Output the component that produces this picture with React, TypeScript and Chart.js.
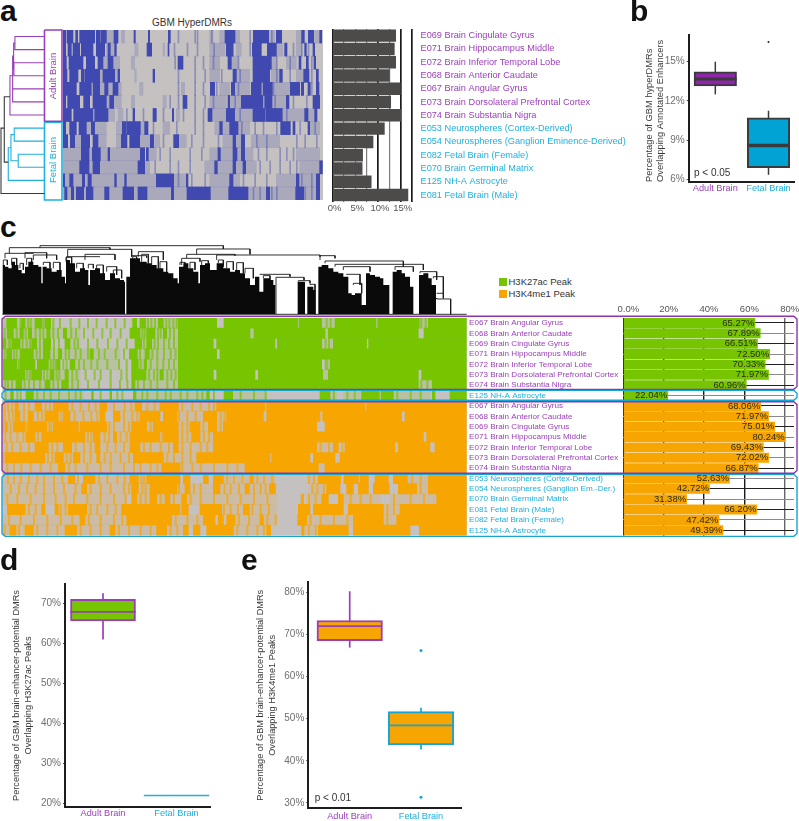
import React, { useEffect, useRef } from "react";
import { Chart, registerables } from "chart.js";
Chart.register(...registerables);

const FONT = '"Liberation Sans", Arial, sans-serif';
Chart.defaults.font.family = FONT;
Chart.defaults.plugins.legend.display = false;
Chart.defaults.plugins.tooltip.enabled = false;

const ADULT = "#9a3fb8";
const FETAL = "#1fb0de";
const ADULT_DARK = "#8e35ad";
const FETAL_DARK = "#16a5d6";
const GREEN = "#76c500";
const ORANGE = "#f7a500";
const BLUE = "#3f49b0";
const GRAY = "#c5c1c0";

/* Panel a */
const aRowNames = ["E069 Brain Cingulate Gyrus","E071 Brain Hippocampus Middle","E072 Brain Inferior Temporal Lobe","E068 Brain Anterior Caudate","E067 Brain Angular Gyrus","E073 Brain Dorsolateral Prefrontal Cortex","E074 Brain Substantia Nigra","E053 Neurospheres (Cortex-Derived)","E054 Neurospheres (Ganglion Eminence-Derived)","E082 Fetal Brain (Female)","E070 Brain Germinal Matrix","E125 NH-A Astrocyte","E081 Fetal Brain (Male)"];
const aPercent = [13.9,13.6,13.9,12.5,14.9,12.8,15.0,11.4,8.9,6.6,6.5,8.5,16.6];
const aSolid = [
[[0,8],[12,30],[38,44],[50,95],[100,112],[115,130],[153,165],[213,217],[256,260],[316,322],[486,516],[571,617],[640,656],[716,724],[736,752],[770,776]],
[[0,8],[15,25],[30,50],[55,90],[100,125],[135,142],[155,160],[252,266],[315,318],[490,510],[568,595],[613,640],[665,672],[725,730],[750,755]],
[[0,10],[18,60],[70,95],[105,120],[135,150],[345,360],[495,505],[570,625],[708,714],[730,736],[753,758]],
[[0,12],[20,45],[55,62],[65,110],[120,155],[165,170],[270,275],[510,520],[570,620],[650,658],[722,738],[760,766]],
[[0,40],[50,85],[90,110],[125,135],[150,165],[442,455],[505,515],[565,595],[600,628],[682,710],[715,722],[735,742],[760,768]],
[[0,8],[14,50],[62,80],[90,130],[140,152],[360,372],[495,500],[535,600],[605,627],[670,678],[750,770]],
[[0,25],[32,90],[95,135],[210,215],[270,280],[328,332],[435,447],[490,515],[570,607],[610,658],[725,735],[755,762]],
[[0,8],[20,40],[48,70],[85,95],[178,190],[192,232],[245,255],[470,478],[500,525],[653,682],[690,696],[735,740]],
[[0,14],[22,35],[55,80],[90,105],[175,192],[200,230],[262,272],[332,347],[510,518],[535,545]],
[[55,78],[88,112],[135,140],[232,245],[250,256],[465,472],[510,522],[535,545]],
[[50,78],[90,110],[225,245],[455,463],[510,518],[540,548],[770,778]],
[[0,5],[20,30],[58,65],[75,85],[155,160],[185,190],[280,332],[370,375],[500,510],[700,708],[760,770]],
[[5,12],[25,32],[40,62],[70,90],[125,138],[180,212],[225,252],[325,332],[372,442],[497,555],[610,620],[698,722],[760,770]],
];
const aFaint = [
[[120,153],[175,185],[440,450],[470,486],[516,530],[620,635],[700,716],[755,768]],
[[130,155],[215,225],[300,305],[440,486],[520,535],[640,660],[700,716]],
[[120,135],[150,170],[205,215],[440,470],[505,525],[625,640],[670,700]],
[[110,120],[155,165],[215,220],[440,470],[520,560],[625,650],[700,720]],
[[110,125],[135,150],[165,175],[230,240],[355,365],[470,500],[515,560],[625,680]],
[[130,140],[152,175],[205,215],[300,310],[440,490],[500,535],[627,670]],
[[135,155],[165,180],[340,350],[447,490],[515,570],[660,725],[735,755]],
[[70,85],[95,130],[160,178],[232,245],[300,320],[455,470],[478,500],[525,560],[740,770]],
[[35,55],[105,130],[160,175],[232,262],[275,290],[345,370],[480,510],[518,535],[565,650]],
[[0,55],[78,88],[112,135],[140,230],[256,280],[440,465],[472,510],[522,535],[545,570],[700,770]],
[[0,50],[78,90],[110,225],[245,260],[425,455],[463,510],[518,540],[550,580],[710,780]],
[[5,20],[30,58],[65,75],[85,155],[160,185],[190,280],[332,370],[440,500],[510,530],[640,700],[708,760]],
[[0,5],[12,25],[32,40],[62,70],[90,125],[138,180],[212,225],[252,325],[332,372],[442,497],[555,610],[620,698],[722,760]],
];
const aStreaks = [
[345,395,402,445,505,560,625],
[333,372,402,452,508,560,630,690,715,735],
[335,395,420,450,525,640,680,745],
[345,395,425,475,530,640,680,745],
[345,395,420,460,525,630,715,745],
[320,345,395,425,450,515,635,690,730],
[190,240,300,360,395,420,530,650,670],
[270,340,395,420,535,575,600,640,710,755],
[300,385,420,465,580,610,700,725,760],
[290,320,380,415,585,610,650,670,690],
[275,320,345,380,590,620,650,680,700],
[345,385,425,540,575,610,715,745],
[570,590,625,640,725,745],
];
const aTreeAdult = [
[43.7,0,14,0,14,1,43.7,1],[14,0.5,12.7,0.5,12.7,2.5],[43.7,2,13,2,13,3,43.7,3],[12.7,1.5,11.7,1.5,11.7,4.5],
[43.7,4,11.7,4,11.7,5,43.7,5],[11.7,3,9,3,9,6,43.7,6],
];
const aTreeFetal = [
[43.7,7,13.3,7,13.3,8,43.7,8],[43.7,9,17.3,9,17.3,10,43.7,10],[13.3,7.5,10,7.5,10,9.5,17.3,9.5],[10,8.5,7.3,8.5,7.3,11,43.7,11],
];
const aTreeRoot = [[9,4.6,3.3,4.6,3.3,9.6,7.3,9.6],[3.3,7,0,7,0,12,43.7,12]];
const aGroupBoxes = [[43.7,-0.5,61.3,6.48],[43.7,6.56,61.3,12.5]];

/* Panel b, d, e: low, q1, median, q3, high */
const groupNames = ["Adult Brain","Fetal Brain"];
const bAdult = [12.5,13.14,13.68,14.23,15];
const bFetal = [6.35,6.9,8.6,10.7,11.25];
const bOutliers = [16.5];
const dAdult = [60.96,65.6,67.89,71,72.5];
const dFetal = [22.04];
const eAdult = [66.87,68.5,71.97,73.3,80.24];
const eFetal = [42.72,43.8,48.4,51.7,52.63];
const eOutliers = [66.2,31.38];

/* Panel c */
const cRowNames = ["E067 Brain Angular Gyrus","E068 Brain Anterior Caudate","E069 Brain Cingulate Gyrus","E071 Brain Hippocampus Middle","E072 Brain Inferior Temporal Lobe","E073 Brain Dorsolateral Prefrontal Cortex","E074 Brain Substantia Nigra","E125 NH-A Astrocyte","E067 Brain Angular Gyrus","E068 Brain Anterior Caudate","E069 Brain Cingulate Gyrus","E071 Brain Hippocampus Middle","E072 Brain Inferior Temporal Lobe","E073 Brain Dorsolateral Prefrontal Cortex","E074 Brain Substantia Nigra","E053 Neurospheres (Cortex-Derived)","E054 Neurospheres (Ganglion Em.-Der.)","E070 Brain Germinal Matrix","E081 Fetal Brain (Male)","E082 Fetal Brain (Female)","E125 NH-A Astrocyte"];
const cRowIsAdult = [1,1,1,1,1,1,1,0,1,1,1,1,1,1,1,0,0,0,0,0,0];
const cPercent = [65.27,67.89,66.51,72.50,70.33,71.97,60.96,22.04,68.06,71.97,75.01,80.24,69.43,72.02,66.87,52.63,42.72,31.38,66.20,47.42,49.39];
const cAxisTicks = [0,20,40,60,80];
const cSolid = [
[[20,50],[65,75],[105,125],[135,152],[398,410],[420,437],[475,490],[535,650],[672,893],[897,965],[1005,1128],[1133,1258],[1285,1400]],
[[22,40],[60,70],[85,95],[140,150],[190,200],[390,420],[440,465],[490,500],[535,750],[762,975],[985,1255],[1272,1400]],
[[7,18],[35,60],[95,110],[130,152],[195,210],[405,425],[440,455],[535,640],[650,825],[832,965],[1000,1100],[1106,1400]],
[[20,35],[60,100],[130,150],[175,185],[270,280],[388,412],[435,448],[535,650],[660,1400]],
[[10,50],[60,105],[112,145],[170,180],[210,225],[395,415],[432,440],[535,965],[990,1400]],
[[10,75],[95,125],[150,162],[195,205],[395,438],[480,490],[535,640],[650,765],[775,968],[985,1255],[1265,1400]],
[[48,65],[135,150],[185,205],[395,405],[535,1255],[1297,1400]],
[[32,40],[78,100],[275,280],[330,335],[400,408],[620,628],[672,698],[960,990],[1085,1138],[1143,1180],[1297,1305],[1350,1400]],
[[45,55],[105,125],[160,205],[300,320],[405,425],[480,535],[650,795],[800,1095],[1100,1400]],
[[45,60],[85,100],[135,175],[190,210],[300,315],[340,360],[420,480],[490,530],[610,650],[680,790],[800,960],[968,1205],[1215,1400]],
[[15,22],[40,75],[85,140],[160,235],[240,320],[395,440],[460,535],[570,600],[625,650],[670,950],[975,1400]],
[[78,105],[125,255],[280,300],[340,350],[390,480],[490,535],[575,600],[640,1270],[1280,1400]],
[[105,145],[190,215],[285,300],[390,420],[520,535],[640,950],[1000,1015],[1035,1185],[1195,1290],[1305,1400]],
[[15,135],[165,190],[220,240],[290,300],[400,490],[590,810],[815,930],[940,1005],[1020,1400]],
[[175,195],[485,540],[735,955],[975,1400]],
[[205,225],[250,285],[390,415],[440,540],[550,570],[610,625],[640,670],[750,760],[955,1022],[1032,1075],[1080,1105],[1125,1165],[1180,1222],[1285,1400]],
[[245,260],[395,415],[450,530],[555,570],[640,660],[735,748],[808,826],[980,1020],[1040,1060],[1075,1105],[1120,1168],[1195,1250],[1285,1400]],
[[395,410],[450,470],[495,510],[545,560],[905,910],[965,985],[1015,1030],[1310,1400]],
[[22,75],[125,135],[165,175],[205,260],[365,540],[545,565],[600,665],[730,748],[895,930],[940,1030],[1045,1150],[1200,1400]],
[[240,255],[380,515],[610,645],[655,670],[680,705],[780,790],[893,920],[1060,1150],[1190,1400]],
[[30,48],[75,100],[195,230],[330,345],[470,500],[550,565],[580,600],[620,700],[800,812],[905,912],[955,1045],[1060,1230],[1258,1400]],
];
const cFaint = [
[[7,20],[50,105],[125,135],[395,398],[437,475],[490,535],[965,1005],[1258,1285]],
[[7,140],[150,240],[420,535],[750,762],[975,985]],
[[60,95],[110,130],[210,240],[425,535],[965,1000]],
[[7,175],[185,360],[412,535]],
[[50,60],[145,170],[225,360],[415,535]],
[[75,95],[125,150],[162,240],[438,535],[968,985]],
[[7,48],[65,135],[150,185],[205,240],[405,535],[1255,1297]],
[[100,250],[408,620],[700,800],[990,1010],[1030,1085],[1180,1290]],
[[7,105],[125,160],[205,300],[320,405],[425,480],[535,650]],
[[7,45],[60,85],[100,135],[175,190],[210,300],[360,420],[530,610],[650,680]],
[[22,40],[75,85],[140,160],[320,395],[440,460],[535,570],[600,625],[650,670]],
[[7,78],[105,125],[255,280],[300,340],[350,390],[535,575],[600,640]],
[[7,105],[145,190],[215,285],[300,390],[420,520],[535,640],[950,1000]],
[[135,165],[190,220],[240,290],[300,400],[490,590]],
[[7,175],[195,485],[540,735],[955,975]],
[[7,205],[285,390],[415,440],[670,825],[920,955],[1222,1285]],
[[7,245],[260,395],[415,450],[530,555],[570,640],[660,735],[748,808],[930,980],[1250,1285]],
[[7,380],[410,450],[470,495],[510,545],[560,830],[900,905],[920,965],[1030,1140],[1170,1310]],
[[75,125],[175,205],[260,365],[665,730],[748,830],[1150,1200]],
[[7,240],[255,380],[515,610],[705,780],[790,830],[920,1060],[1150,1190]],
[[7,30],[48,75],[100,195],[230,330],[345,470],[500,550],[700,800],[912,955]],
];
const cStreaks = [
[60,82,90,128,158,178,210,236,262,288,318,344,372,442,452,463,497,506,518,528,978,990,1262,1275],
[12,48,75,105,118,128,158,172,212,226,250,278,305,330,360,425,432,472,480,508,520],
[24,28,66,78,88,118,160,175,222,232,262,290,322,350,378,430,462,472,490,505,520,975,985],
[12,40,48,108,118,160,195,205,225,240,262,295,312,345,370,418,455,470,490,510,525],
[54,150,158,165,188,198,235,250,272,290,320,355,378,420,450,470,488,505,520,975,980],
[80,88,130,140,168,176,215,228,255,282,300,330,362,378,445,460,470,500,512,525],
[14,22,34,72,85,100,118,158,172,215,232,262,295,330,358,380,412,430,450,470,500,520,1262,1280],
[15,50,60,110,130,150,175,205,225,240,300,350,365,425,440,470,495,510,540,560,590,605,640,720,760,795,1000,1040,1062,1190,1230,1260],
[12,22,34,70,85,135,148,215,240,265,285,340,372,392,440,462,545,575,600,625,640],
[12,25,36,70,112,124,182,222,248,272,290,370,395,410,535,560,585,660,672],
[8,30,78,146,152,326,340,370,385,450,545,560,608,660],
[14,30,50,68,112,262,272,312,325,360,378,485,545,560,610,625],
[18,35,60,85,155,170,225,250,270,320,345,370,430,450,480,505,545,570,600,620,960,985,1025],
[8,142,155,198,210,250,270,312,330,360,385,500,520,545,570],
[20,40,62,90,120,150,205,225,260,300,330,370,400,420,450,470,545,575,600,640,680,710],
[22,40,60,85,110,130,160,185,232,295,320,350,372,422,430,680,700,725,770,790,815,925,940,1235,1260],
[30,55,80,105,130,160,190,225,270,300,330,370,385,425,435,535,580,600,672,690,715,760,780,795,935,950,970,1260],
[20,50,90,130,165,195,220,260,300,340,375,420,435,480,520,570,600,640,680,720,760,800,925,945,1050,1080,1110,1180,1230,1270],
[85,105,180,195,270,290,320,345,670,690,712,755,780,805,1160,1180],
[25,60,100,140,180,215,265,300,340,365,525,560,590,715,745,800,825,930,960,1000,1040,1160],
[12,55,110,140,170,240,270,300,355,385,420,450,510,530,710,740,770,790,925,945],
];
const cGroupFrames = [
{ from: -0.65, to: 6.4, adult: true },
{ from: 6.5, to: 7.46, adult: false },
{ from: 7.6, to: 14.5, adult: true },
{ from: 14.6, to: 20.58, adult: false },
];
const dendroProfileX = [7,15,25,35,45,55,65,75,85,100,115,124,128,140,155,170,185,195,198,210,225,240,255,265,270,285,300,315,330,345,360,372,375,379,390,405,420,440,455,470,490,505,520,533,537,550,565,580,595,600,615,630,650,670,690,705,720,735,750,765,778,790,800,810,820,826,893,905,915,922,940,946,955,965,985,1000,1015,1030,1045,1055,1065,1075,1085,1098,1110,1125,1140,1150,1160,1168,1178,1190,1205,1215,1230,1240,1257,1270,1285,1295,1308,1400];
const dendroProfileDepth = [150,155,160,140,150,165,175,155,140,150,155,205,155,160,170,165,185,205,135,145,170,160,165,210,165,160,175,195,175,190,195,200,298,185,130,130,140,145,150,160,170,175,190,205,155,145,160,170,205,150,145,165,145,160,170,165,175,190,210,185,230,190,190,195,210,298,200,200,298,215,225,298,155,150,160,170,175,185,235,240,235,235,270,175,180,185,190,210,210,298,170,165,175,185,215,298,180,175,190,210,298,298];
const dendroLinks = [
[120,98,670,102,92],[28,115,330,103,98],[203,125,395,125,103],[590,118,750,118,102],[15,130,100,113,115],[75,130,140,130,113],[100,135,170,135,120],[200,135,300,125,125],[255,135,345,135,118],[415,125,490,135,110],[395,125,440,128,122],[560,130,705,122,118],[545,150,600,140,130],[650,135,960,125,120],[960,135,1005,130,122],[975,145,1210,155,138],[1005,155,1270,165,148],[1030,165,1110,170,155],[1185,165,1240,170,155],[1260,175,1310,195,170],[1300,190,1330,235,185],[1310,235,1330,250,235],[1310,250,1352,298,252],[780,180,870,185,178],[828,298,912,195,187],[895,200,930,205,197],[930,210,945,298,208],[1040,180,1080,210,178],[1060,210,1085,235,205],
[10,150,22,150,135],[35,150,50,155,130],[60,160,70,165,145],[80,150,95,150,130],[130,150,150,160,142],[160,160,180,165,142],[198,140,215,150,127],[230,160,250,165,145],[265,160,280,160,148],[290,170,310,180,150],[320,170,350,180,155],[340,180,365,190,165],[398,135,410,135,125],[425,140,445,145,118],[455,150,475,160,125],[480,165,500,170,140],[540,150,555,150,142],[570,160,585,165,142],[605,150,625,150,137],[655,145,670,155,135],[680,160,700,165,140],[710,165,730,175,143],[735,175,760,190,160],[790,190,810,195,182],
];

const bandRows = (rows: number[][][]) => rows.flatMap((runs, y) => runs.map((r) => ({ x: r, y })));
const streakRows = (rows: number[][], w: number) => rows.flatMap((starts, y) => starts.map((s) => ({ x: [s, s + w], y })));
const polyPoints = (lines: number[][]) =>
  lines.flatMap((l) => {
    const pts: any[] = [];
    for (let i = 0; i < l.length; i += 2) pts.push({ x: l[i], y: l[i + 1] });
    pts.push({ x: null, y: null });
    return pts;
  });
const uLinks = (links: number[][]) =>
  polyPoints(links.map(([a, ab, b, bb, top]) => [a, ab, a, top, b, top, b, bb]));

function heatConfig(solid: number[][][], faint: number[][][], streaks: number[][], streakW: number, xMin: number, xMax: number, colour: (row: number) => string, faintColour: (row: number) => string, streakColour: (row: number) => string, padding: any) {
  const n = solid.length;
  const base = { type: "bar", grouped: false, barPercentage: 1, categoryPercentage: 1, borderWidth: 0 };
  return {
    type: "bar",
    data: {
      datasets: [
        { ...base, order: 4, backgroundColor: GRAY, data: solid.map((_, y) => ({ x: [xMin, xMax], y })) },
        { ...base, order: 3, backgroundColor: (c: any) => faintColour(c.raw?.y ?? 0), data: bandRows(faint) },
        { ...base, order: 2, backgroundColor: (c: any) => streakColour(c.raw?.y ?? 0), data: streakRows(streaks, streakW) },
        { ...base, order: 1, backgroundColor: (c: any) => colour(c.raw?.y ?? 0), data: bandRows(solid) },
      ],
    },
    options: {
      indexAxis: "y",
      responsive: false,
      animation: false,
      layout: { padding },
      scales: {
        x: { type: "linear", min: xMin, max: xMax, display: false },
        y: {
          type: "linear", reverse: true, min: -0.5, max: n - 0.5, display: false, offset: false,
          afterBuildTicks: (s: any) => { s.ticks = solid.map((_, value) => ({ value })); },
        },
      },
    },
  };
}

function boxConfig(o: any) {
  const datasets: any[] = [];
  const boxData: any[] = [], fills: string[] = [], borders: string[] = [];
  o.groups.forEach((g: any) => {
    const line = { type: "line", pointRadius: 0, borderColor: g.border, clip: false };
    if (g.five.length === 5) {
      const [low, q1, med, q3, high] = g.five;
      datasets.push({ ...line, order: 3, borderWidth: o.whisker, data: [{ x: g.x, y: low }, { x: g.x, y: high }] });
      boxData.push({ x: g.x, y: [q1, q3] });
      fills.push(g.fill);
      borders.push(g.border);
      datasets.push({ ...line, order: 1, borderWidth: g.medWidth, data: [{ x: g.x - o.half, y: med }, { x: g.x + o.half, y: med }] });
    } else {
      datasets.push({ ...line, order: 1, borderWidth: g.medWidth, data: [{ x: g.x - o.half, y: g.five[0] }, { x: g.x + o.half, y: g.five[0] }] });
    }
    if (g.outliers) {
      datasets.push({ type: "line", order: 0, showLine: false, pointRadius: g.outR, pointBackgroundColor: g.outColor, pointBorderWidth: 0, clip: false, data: g.outliers.map((y: number) => ({ x: g.x, y })) });
    }
  });
  datasets.push({ type: "bar", order: 2, barThickness: o.boxPx, borderWidth: o.boxBorder, borderSkipped: false, backgroundColor: fills, borderColor: borders, data: boxData });
  return {
    type: "bar",
    data: { datasets },
    options: {
      responsive: false,
      animation: false,
      layout: { padding: o.padding },
      scales: {
        x: {
          type: "linear", offset: false, min: o.xMin, max: o.xMax,
          afterBuildTicks: (s: any) => { s.ticks = [{ value: 1 }, { value: 2 }]; },
          afterFit: (s: any) => { s.height = o.xAxisH; },
          ticks: { callback: (v: number) => groupNames[v - 1], color: (c: any) => (c.index === 0 ? ADULT : FETAL), font: { size: o.labelSize }, padding: o.xPad, maxRotation: 0, autoSkip: false },
          grid: { display: false, offset: false, drawTicks: false },
          border: { display: true, color: "#1d1d1d", width: 2 },
        },
        y: {
          type: "linear", min: o.yMin, max: o.yMax,
          afterBuildTicks: (s: any) => { s.ticks = o.yTicks.map((value: number) => ({ value })); },
          afterFit: (s: any) => { s.width = o.yAxisW; },
          ticks: { callback: (v: number) => v + "%", color: "#6f6f6f", font: { size: o.tickSize }, padding: 2, autoSkip: false },
          grid: { drawOnChartArea: false, drawTicks: true, tickLength: 2, color: "#444" },
          border: { display: true, color: "#1d1d1d", width: 2 },
          title: { display: true, text: o.title, align: o.titleAlign, color: "#3a3a3a", padding: 0, font: { size: o.titleSize, lineHeight: o.titleLH } },
        },
      },
    },
  };
}

const barValueLabels = {
  id: "barValueLabels",
  afterDatasetsDraw(chart: any) {
    const ctx = chart.ctx;
    const meta = chart.getDatasetMeta(0);
    ctx.save();
    ctx.font = `9.5px ${FONT}`;
    ctx.fillStyle = "#2a2a10";
    ctx.textAlign = "right";
    ctx.textBaseline = "middle";
    meta.data.forEach((el: any, i: number) => ctx.fillText(cPercent[i].toFixed(2) + "%", el.x - 0.5, el.y));
    ctx.restore();
  },
};

const cfgATree = {
  type: "scatter",
  data: {
    datasets: [
      { data: polyPoints(aTreeRoot), borderColor: "#3a3a3a", borderWidth: 1.1, showLine: true, pointRadius: 0, clip: false },
      { data: polyPoints(aTreeAdult), borderColor: ADULT, borderWidth: 1.1, showLine: true, pointRadius: 0, clip: false },
      { data: polyPoints(aTreeFetal), borderColor: FETAL, borderWidth: 1.1, showLine: true, pointRadius: 0, clip: false },
      ...aGroupBoxes.map(([x0, y0, x1, y1], i) => ({
        data: [{ x: x0, y: y0 }, { x: x1, y: y0 }, { x: x1, y: y1 }, { x: x0, y: y1 }, { x: x0, y: y0 }],
        borderColor: i === 0 ? ADULT : FETAL, borderWidth: 1.6, showLine: true, pointRadius: 0, clip: false, backgroundColor: "#fff", fill: true,
      })),
    ],
  },
  options: {
    responsive: false, animation: false,
    layout: { padding: { left: 1, right: 1, top: 2, bottom: 2 } },
    scales: {
      x: { type: "linear", min: 0, max: 61.3, display: false },
      y: { type: "linear", reverse: true, min: -0.5, max: 12.5, display: false },
    },
  },
};

const cfgAHeat = heatConfig(aSolid, aFaint, aStreaks, 3, 0, 780, () => BLUE, () => "rgba(63,73,176,0.2)", () => "rgba(63,73,176,0.42)", 0);

const aMajorGrid = [0, 10, 15, 17.5];
const cfgABars = {
  type: "bar",
  data: { labels: aRowNames, datasets: [{ data: aPercent, backgroundColor: "#4d4a4a", barThickness: 11.8 }] },
  options: {
    indexAxis: "y", responsive: false, animation: false,
    layout: { padding: { left: 10.7, top: 17, bottom: 0.3, right: 0 } },
    scales: {
      x: {
        type: "linear", min: 0, max: 17.5,
        afterFit: (s: any) => { s.height = 15; },
        ticks: { stepSize: 2.5, autoSkip: false, maxRotation: 0, padding: 1, labelOffset: 2, color: "#555", font: { size: 9.5 }, callback: (v: number) => (v % 5 === 0 ? v + "%" : "") },
        grid: { drawOnChartArea: true, drawTicks: false, color: (c: any) => (aMajorGrid.includes(c.tick?.value) ? "#1a1a1a" : "#7d7d7d"), lineWidth: (c: any) => (aMajorGrid.includes(c.tick?.value) ? 1.7 : 1.2) },
        border: { display: false },
      },
      y: {
        position: "right",
        afterFit: (s: any) => { s.width = 228; },
        ticks: { padding: 8.5, autoSkip: false, color: (c: any) => (c.index < 7 ? ADULT : FETAL), font: { size: 9.2 } },
        grid: { display: false, drawTicks: false },
        border: { display: false },
      },
    },
  },
};

const cfgB = boxConfig({
  groups: [
    { x: 1, five: bAdult, fill: "#8f25ad", border: "#3a3a3a", medWidth: 3 },
    { x: 2, five: bFetal, fill: "#00a3d3", border: "#3a3a3a", medWidth: 3.5, outliers: bOutliers, outR: 1, outColor: "#222" },
  ],
  half: 0.4, boxPx: 42.5, boxBorder: 2, whisker: 1.5,
  xMin: 0.5, xMax: 2.479, xAxisH: 18, xPad: 1, yAxisW: 44.7,
  yMin: 5.8, yMax: 17.04, yTicks: [6, 9, 12, 15],
  padding: { top: 17, right: 5, bottom: 0, left: 0 },
  title: ["Percentage of GBM hyperDMRs", "Overlapping Annotated Enhancers"], titleAlign: "start",
  titleSize: 9.3, titleLH: 1.15, tickSize: 10, labelSize: 9.2,
});

const cfgD = boxConfig({
  groups: [
    { x: 1, five: dAdult, fill: GREEN, border: ADULT, medWidth: 1.7 },
    { x: 2, five: dFetal, border: FETAL, medWidth: 1.7 },
  ],
  half: 0.445, boxPx: 65, boxBorder: 2, whisker: 1.7,
  xMin: 0.483, xMax: 2.465, xAxisH: 14, xPad: 1, yAxisW: 54,
  yMin: 19.25, yMax: 74.75, yTicks: [20, 30, 40, 50, 60, 70],
  padding: { top: 16.3, right: 4.3, bottom: 0.3, left: 0 },
  title: ["Percentage of GBM brain-enhancer-potential DMRs", "Overlapping H3K27ac Peaks"], titleAlign: "center",
  titleSize: 9.2, titleLH: 1.27, tickSize: 10, labelSize: 9.2,
});

const cfgE = boxConfig({
  groups: [
    { x: 1, five: eAdult, fill: ORANGE, border: ADULT, medWidth: 1.7 },
    { x: 2, five: eFetal, fill: ORANGE, border: FETAL_DARK, medWidth: 1.7, outliers: eOutliers, outR: 1.5, outColor: FETAL_DARK },
  ],
  half: 0.455, boxPx: 65.5, boxBorder: 2, whisker: 1.7,
  xMin: 0.419, xMax: 2.571, xAxisH: 12.7, xPad: 3, yAxisW: 53.3,
  yMin: 28.74, yMax: 82.37, yTicks: [30, 40, 50, 60, 70, 80],
  padding: { top: 16.3, right: 4.3, bottom: 0, left: 0 },
  title: ["Percentage of GBM brain-enhancer-potential DMRs", "Overlapping H3K4me1 Peaks"], titleAlign: "center",
  titleSize: 9.2, titleLH: 1.27, tickSize: 10, labelSize: 9.2,
});

const cfgCTree = {
  type: "scatter",
  data: {
    datasets: [
      { data: dendroProfileX.map((x, i) => ({ x, y: dendroProfileDepth[i] })), showLine: true, stepped: "before", borderWidth: 0, pointRadius: 0, backgroundColor: "#0a0a0a", fill: { value: 298 } },
      { data: uLinks(dendroLinks), showLine: true, borderColor: "#1a1a1a", borderWidth: 0.9, pointRadius: 0, clip: false },
      { data: [{ x: 7, y: 298 }, { x: 1400, y: 298 }], showLine: true, borderColor: "#333", borderWidth: 1, pointRadius: 0, clip: false },
    ],
  },
  options: {
    responsive: false, animation: false,
    layout: { padding: { left: 0.33, right: 1.33, top: 1, bottom: 1.7 } },
    scales: {
      x: { type: "linear", min: 7, max: 1400, display: false },
      y: { type: "linear", reverse: true, min: 90, max: 298, display: false },
    },
  },
};

const cfgCHeat = heatConfig(cSolid, cFaint, cStreaks, 4, 7, 1400,
  (r) => (r < 8 ? GREEN : ORANGE),
  (r) => (r < 8 ? "rgba(118,197,0,0.15)" : "rgba(247,165,0,0.14)"),
  (r) => (r < 8 ? "rgba(118,197,0,0.7)" : "rgba(247,165,0,0.7)"),
  { left: 0.33, right: 1.33, top: 0.8, bottom: 1.5 });

const cfgCBars = {
  type: "bar",
  data: { labels: cRowNames, datasets: [{ data: cPercent, backgroundColor: cPercent.map((_, i) => (i < 8 ? GREEN : ORANGE)), barThickness: 9.3 }] },
  options: {
    indexAxis: "y", responsive: false, animation: false,
    layout: { padding: { right: 5, bottom: 14.5, left: 0, top: 0 } },
    scales: {
      x: {
        type: "linear", position: "top", min: 0, max: 84.6,
        afterBuildTicks: (s: any) => { s.ticks = cAxisTicks.map((value) => ({ value })); },
        afterFit: (s: any) => { s.height = 17.8; },
        ticks: { padding: 3, labelOffset: 5, maxRotation: 0, autoSkip: false, color: "#555", font: { size: 9.5 }, callback: (v: number) => (v === 0 ? "0.0%" : v + "%") },
        grid: { drawOnChartArea: true, drawTicks: false, color: (c: any) => (c.tick?.value === 80 ? "#666" : "#1a1a1a"), lineWidth: 1.4 },
        border: { display: false },
      },
      y: {
        afterFit: (s: any) => { s.width = 154.3; },
        ticks: { crossAlign: "far", autoSkip: false, color: (c: any) => (cRowIsAdult[c.index] ? ADULT : FETAL), font: { size: 8.1 } },
        grid: { drawTicks: false, offset: false, color: (c: any) => (c.index % 2 ? "#8a8a8a" : "#222"), lineWidth: 1 },
        border: { display: false },
      },
    },
  },
  plugins: [barValueLabels],
};

const frameDx = 0.004;
const frameDy = 0.28;
const cfgCFrames = {
  type: "scatter",
  data: {
    datasets: cGroupFrames.map((f) => ({
      data: [
        { x: frameDx, y: f.from }, { x: 1 - frameDx, y: f.from }, { x: 1, y: f.from + frameDy }, { x: 1, y: f.to - frameDy },
        { x: 1 - frameDx, y: f.to }, { x: frameDx, y: f.to }, { x: 0, y: f.to - frameDy }, { x: 0, y: f.from + frameDy }, { x: frameDx, y: f.from },
      ],
      showLine: true, pointRadius: 0, clip: false, borderWidth: 1.4,
      borderColor: f.adult ? ADULT_DARK : FETAL_DARK,
    })),
  },
  options: {
    responsive: false, animation: false,
    layout: { padding: { left: 2, right: 2, top: 3.8, bottom: 3.5 } },
    scales: {
      x: { type: "linear", min: 0, max: 1, display: false },
      y: { type: "linear", reverse: true, min: -0.5, max: 20.5, display: false },
    },
  },
};

function Panel({ left, top, width, height, config, z }: any) {
  const ref = useRef<HTMLCanvasElement>(null);
  useEffect(() => {
    const chart = new Chart(ref.current as any, config);
    return () => chart.destroy();
  }, []);
  return (
    <div style={{ position: "absolute", left, top, width, height, zIndex: z ?? 1, pointerEvents: "none" }}>
      <canvas ref={ref} width={width} height={height} />
    </div>
  );
}

function Text({ x, y, size, color, bold, rotate, center, children }: any) {
  return (
    <div style={{ position: "absolute", left: x, top: y, fontSize: size, color: color ?? "#333", fontWeight: bold ? 700 : 400, whiteSpace: "nowrap", lineHeight: 1, zIndex: 3,
      transform: `translate(${center || rotate ? "-50%" : "0"},-50%)${rotate ? " rotate(-90deg)" : ""}` }}>
      {children}
    </div>
  );
}

const panelLetters = [["a", 0, 11], ["b", 630, 11], ["c", 0, 227], ["d", 0, 560], ["e", 241, 560]];

export default function App() {
  return (
    <div style={{ position: "absolute", left: 0, top: 0, width: 799, height: 821, overflow: "hidden", background: "#fff", fontFamily: FONT, filter: "blur(0.3px)" }}>
      {panelLetters.map(([t, x, y]) => (
        <Text key={t as string} x={x} y={y} size={30} bold color="#111">{t}</Text>
      ))}
      <Panel left={0} top={28} width={63} height={174} config={cfgATree} />
      <Text x={52.5} y={76} size={9.5} color={ADULT} rotate>Adult Brain</Text>
      <Text x={52.5} y={160} size={9.5} color={FETAL} rotate>Fetal Brain</Text>
      <Text x={192} y={23} size={10} color="#333" center>GBM HyperDMRs</Text>
      <Panel left={63} top={30} width={260} height={170} config={cfgAHeat} />
      <Panel left={322} top={12} width={318} height={205} config={cfgABars} />
      <Panel left={644} top={18} width={155} height={182} config={cfgB} />
      <Text x={694} y={172.7} size={10} color="#333">p &lt; 0.05</Text>
      <Panel left={2} top={244} width={466} height={72} config={cfgCTree} />
      <div style={{ position: "absolute", left: 499, top: 278, width: 8, height: 8, background: GREEN }} />
      <div style={{ position: "absolute", left: 499, top: 290, width: 8, height: 8, background: ORANGE }} />
      <Text x={508.5} y={282} size={9.5} color="#333">H3K27ac Peak</Text>
      <Text x={508.5} y={293.5} size={9.5} color="#333">H3K4me1 Peak</Text>
      <Panel left={2} top={317} width={466} height={220} config={cfgCHeat} />
      <Panel left={469} top={300} width={330} height={250} config={cfgCBars} />
      <Panel left={0} top={314} width={799} height={225} config={cfgCFrames} z={2} />
      <Panel left={11} top={568} width={204} height={253} config={cfgD} />
      <Panel left={255} top={566} width={211} height={255} config={cfgE} />
      <Text x={314.7} y={798} size={10} color="#333">p &lt; 0.01</Text>
    </div>
  );
}
